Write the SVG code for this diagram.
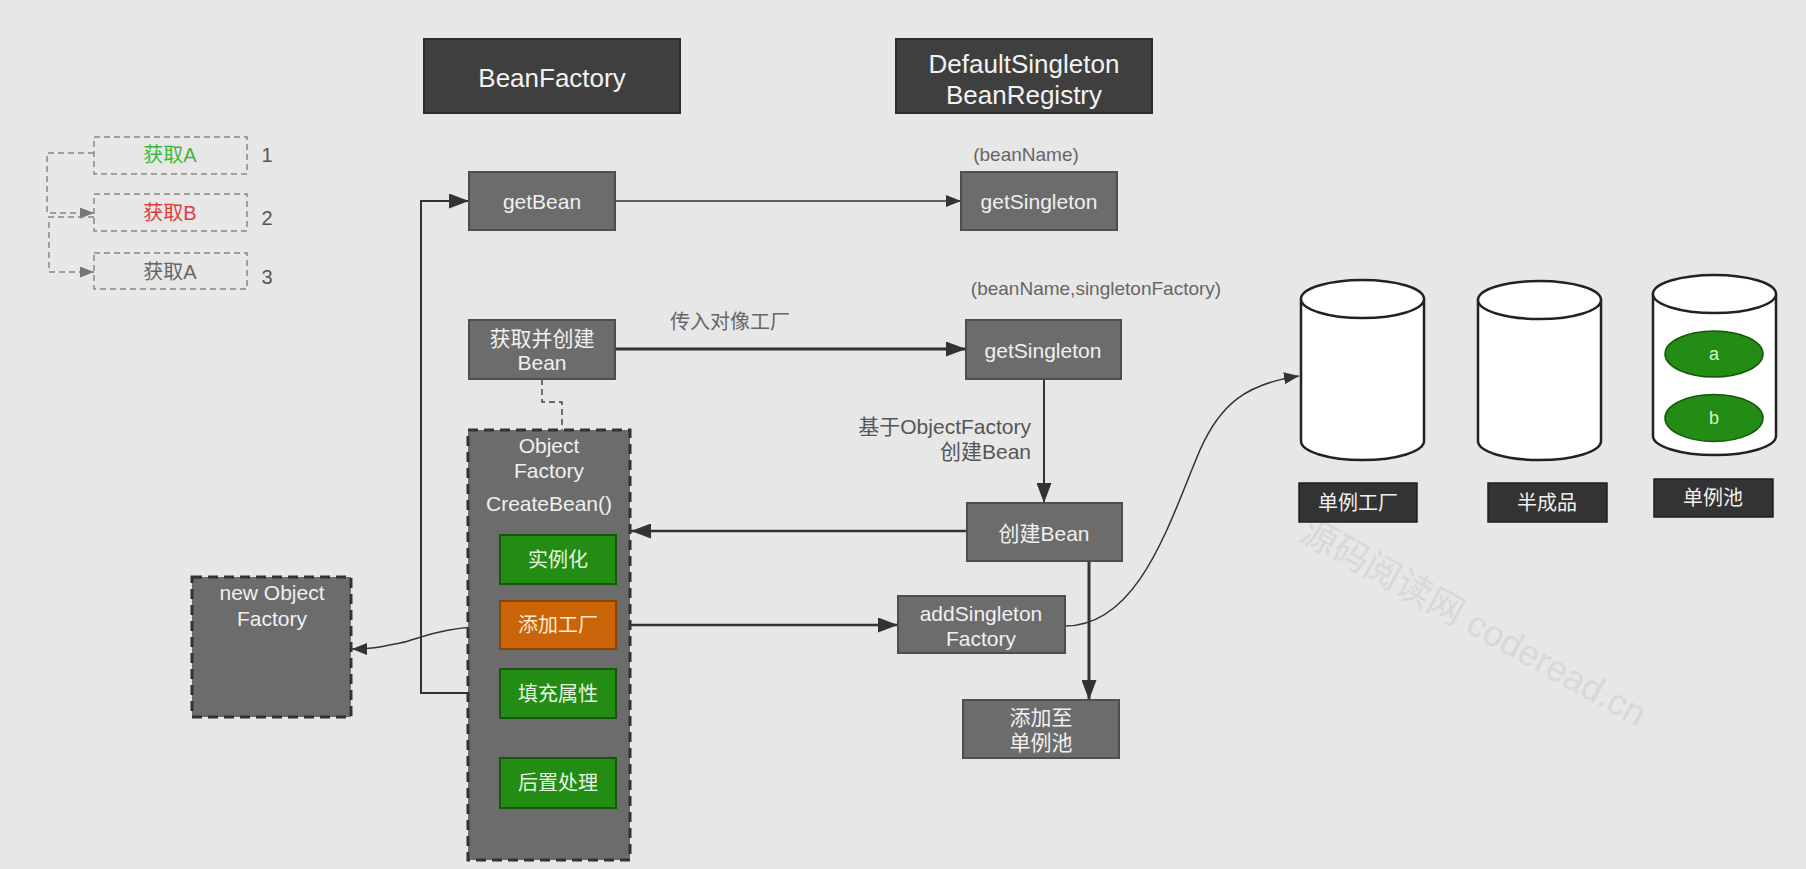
<svg xmlns="http://www.w3.org/2000/svg" width="1806" height="869" viewBox="0 0 1806 869">
<defs>
<style>
text{font-family:"Liberation Sans","Noto Sans CJK SC",sans-serif;dominant-baseline:central;text-anchor:middle}
.hdr rect{fill:#3f3f3f;stroke:#2b2b2b;stroke-width:2}
.hdr text{fill:#f2f2f2;font-size:26px}
.box rect{fill:#6c6c6c;stroke:#4e4e4e;stroke-width:2}
.box text{fill:#f0f0f0;font-size:21px}
.grn rect{fill:#238c14;stroke:#17560d;stroke-width:2}
.grn text{fill:#e6f6e0;font-size:20px}
.org rect{fill:#c96508;stroke:#8a4606;stroke-width:2}
.org text{fill:#fbe8d2;font-size:20px}
.dash rect{fill:#6c6c6c;stroke:#333;stroke-width:3;stroke-dasharray:10 6}
.lbl rect{fill:#333;stroke:#222;stroke-width:1.5}
.lbl text{fill:#f0f0f0;font-size:20px}
.cyl path,.cyl ellipse.top{fill:#fff;stroke:#222;stroke-width:2.5}
.note{fill:#666;font-size:19px}
.step rect{fill:none;stroke:#888;stroke-width:1.5;stroke-dasharray:6 4}
.step text{font-size:20px}
.num{fill:#555;font-size:20px}
.c{fill:none;stroke:#333}
.cd{fill:none;stroke:#888;stroke-width:1.5;stroke-dasharray:6 4}
</style>
<marker id="ah" viewBox="0 0 15 12" refX="15" refY="6" markerWidth="15" markerHeight="12" markerUnits="userSpaceOnUse" orient="auto"><path d="M0,0 L15,6 L0,12 z" fill="#333"/></marker>
<marker id="ahb" viewBox="0 0 20 15" refX="20" refY="7.5" markerWidth="20" markerHeight="15" markerUnits="userSpaceOnUse" orient="auto"><path d="M0,0 L20,7.5 L0,15 z" fill="#333"/></marker>
<marker id="ahg" viewBox="0 0 14 11" refX="14" refY="5.5" markerWidth="14" markerHeight="11" markerUnits="userSpaceOnUse" orient="auto"><path d="M0,0 L14,5.5 L0,11 z" fill="#777"/></marker>
</defs>
<rect width="1806" height="869" fill="#e7e7e7"/>

<text x="1304" y="528" transform="rotate(29 1304 528)" style="text-anchor:start;font-size:36px;fill:#d8d8d8">源码阅读网 coderead.cn</text>

<g id="connectors">
<path class="c" d="M615,201 L961,201" stroke-width="1.5" marker-end="url(#ah)"/>
<path class="c" d="M615,349 L966,349" stroke-width="3" marker-end="url(#ahb)"/>
<path class="c" d="M1044,379 L1044,503" stroke-width="2" marker-end="url(#ahb)"/>
<path class="c" d="M966,531 L631,531" stroke-width="2.5" marker-end="url(#ahb)"/>
<path class="c" d="M616,625 L898,625" stroke-width="2.5" marker-end="url(#ahb)"/>
<path class="c" d="M1089,562 L1089,700" stroke-width="3" marker-end="url(#ahb)"/>
<path class="c" d="M500,693 L421,693 L421,201 L469,201" stroke-width="2" marker-end="url(#ahb)"/>
<path class="c" d="M500,626 C440,626 420,639 400,643 S372,649 352,649" stroke-width="1.5" marker-end="url(#ah)"/>
<path class="c" d="M1065,626 C1140,626 1170,520 1200,450 C1220,405 1245,384 1299,376" stroke-width="1.5" marker-end="url(#ah)"/>
<path d="M542,379 L542,402 L562,402 L562,430" fill="none" stroke="#444" stroke-width="1.5" stroke-dasharray="6 4"/>
<path class="cd" d="M94,153 L47,153 L47,213 L94,213" marker-end="url(#ahg)"/>
<path class="cd" d="M94,217 L49,217 L49,272 L94,272" marker-end="url(#ahg)"/>
</g>

<g id="steps" class="step">
<g id="step1"><rect x="94" y="137" width="153" height="37"/><text x="170" y="155" fill="#3cb83c">获取A</text><text class="num" x="267" y="155">1</text></g>
<g id="step2"><rect x="94" y="194" width="153" height="37"/><text x="170" y="213" fill="#e03c3c">获取B</text><text class="num" x="267" y="218">2</text></g>
<g id="step3"><rect x="94" y="253" width="153" height="36"/><text x="170" y="272" fill="#666">获取A</text><text class="num" x="267" y="277">3</text></g>
</g>

<g id="beanFactory" class="hdr"><rect x="424" y="39" width="256" height="74"/><text x="552" y="78">BeanFactory</text></g>
<g id="registry" class="hdr"><rect x="896" y="39" width="256" height="74"/><text x="1024" y="64">DefaultSingleton</text><text x="1024" y="95">BeanRegistry</text></g>

<g id="getBean" class="box"><rect x="469" y="172" width="146" height="58"/><text x="542" y="201">getBean</text></g>
<g id="getSingleton1" class="box"><rect x="961" y="172" width="156" height="58"/><text x="1039" y="201">getSingleton</text></g>
<text class="note" x="1026" y="154">(beanName)</text>

<g id="getAndCreate" class="box"><rect x="469" y="320" width="146" height="59"/><text x="542" y="338">获取并创建</text><text x="542" y="362">Bean</text></g>
<text class="note" x="670" y="322" style="text-anchor:start;font-size:20px">传入对像工厂</text>
<g id="getSingleton2" class="box"><rect x="966" y="320" width="155" height="59"/><text x="1043" y="350">getSingleton</text></g>
<text class="note" x="1096" y="288">(beanName,singletonFactory)</text>
<text class="note" x="1031" y="426" style="text-anchor:end;font-size:21px;fill:#555">基于ObjectFactory</text>
<text class="note" x="1031" y="451" style="text-anchor:end;font-size:21px;fill:#555">创建Bean</text>

<g id="objectFactory" class="dash"><rect x="468" y="430" width="162" height="430"/>
<text x="549" y="445" style="fill:#f0f0f0;font-size:21px">Object</text>
<text x="549" y="470" style="fill:#f0f0f0;font-size:21px">Factory</text>
<text x="549" y="503" style="fill:#f0f0f0;font-size:21px">CreateBean()</text>
</g>
<g id="instantiate" class="grn"><rect x="500" y="535" width="116" height="49"/><text x="558" y="560">实例化</text></g>
<g id="addFactory" class="org"><rect x="500" y="601" width="116" height="48"/><text x="558" y="625">添加工厂</text></g>
<g id="populate" class="grn"><rect x="500" y="669" width="116" height="49"/><text x="558" y="694">填充属性</text></g>
<g id="postProcess" class="grn"><rect x="500" y="758" width="116" height="50"/><text x="558" y="783">后置处理</text></g>

<g id="newObjectFactory" class="dash"><rect x="192" y="577" width="159" height="140"/>
<text x="272" y="592" style="fill:#f0f0f0;font-size:21px">new Object</text>
<text x="272" y="618" style="fill:#f0f0f0;font-size:21px">Factory</text>
</g>

<g id="createBean" class="box"><rect x="967" y="503" width="155" height="58"/><text x="1044" y="533">创建Bean</text></g>
<g id="addSingletonFactory" class="box"><rect x="898" y="596" width="167" height="57"/><text x="981" y="613">addSingleton</text><text x="981" y="638">Factory</text></g>
<g id="addToPool" class="box"><rect x="963" y="700" width="156" height="58"/><text x="1041" y="717">添加至</text><text x="1041" y="742">单例池</text></g>

<g id="cyl1" class="cyl"><path d="M1301,299 L1301,441 A61.5,19 0 0 0 1424,441 L1424,299"/><ellipse class="top" cx="1362.5" cy="299" rx="61.5" ry="19"/></g>
<g id="cyl2" class="cyl"><path d="M1478,300 L1478,441 A61.5,19 0 0 0 1601,441 L1601,300"/><ellipse class="top" cx="1539.5" cy="300" rx="61.5" ry="19"/></g>
<g id="cyl3" class="cyl"><path d="M1653,294 L1653,436 A61.5,19 0 0 0 1776,436 L1776,294"/><ellipse class="top" cx="1714.5" cy="294" rx="61.5" ry="19"/>
<ellipse cx="1714" cy="354" rx="49" ry="23" fill="#238c14" stroke="#17560d" stroke-width="1.5"/><text x="1714" y="354" style="fill:#d4f4cc;font-size:18px">a</text>
<ellipse cx="1714" cy="418" rx="49" ry="23.5" fill="#238c14" stroke="#17560d" stroke-width="1.5"/><text x="1714" y="418" style="fill:#d4f4cc;font-size:18px">b</text>
</g>
<g id="lbl1" class="lbl"><rect x="1299" y="483" width="118" height="39"/><text x="1358" y="503">单例工厂</text></g>
<g id="lbl2" class="lbl"><rect x="1488" y="483" width="119" height="39"/><text x="1547" y="503">半成品</text></g>
<g id="lbl3" class="lbl"><rect x="1654" y="479" width="119" height="38"/><text x="1713" y="498">单例池</text></g>
</svg>
